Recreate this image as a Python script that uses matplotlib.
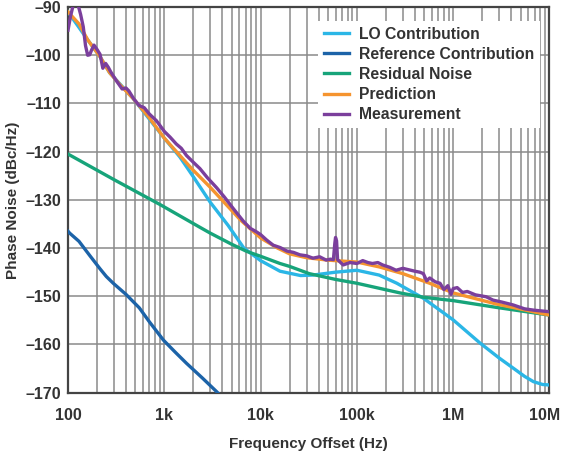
import numpy as np
import matplotlib
matplotlib.use('Agg')
import matplotlib.pyplot as plt
from matplotlib.ticker import FixedLocator, NullFormatter, LogLocator
from matplotlib.transforms import ScaledTranslation

# values
f_pred = [100, 130, 160, 215, 270, 350, 476, 700, 1000, 1940, 3000, 6200, 10000, 15000, 20000, 30000,
          50000, 100000, 170000, 300000, 570000, 1e6, 2.8e6, 1e7]
pn_pred = [-91.0, -93.5, -96.8, -100.3, -103.6, -106.2, -109.0, -113.0, -117.2, -123.6, -127.4, -134.2,
           -137.9, -140.0, -141.2, -142.0, -142.5, -142.9, -143.9, -145.3, -147.3, -149.3, -151.6,
           -153.9]

f_lo = [100, 160, 215, 270, 476, 1000, 1450, 2000, 3000, 4600, 6700, 10000, 15900, 26000, 35000,
        60000, 100000, 170000, 260000, 490000, 1e6, 1.9e6, 3e6, 4.2e6, 5.5e6, 6.8e6, 8.5e6, 1e7]
pn_lo = [-91.0, -96.8, -100.3, -103.6, -109.0, -117.2, -121.1, -125.2, -130.5, -135.3, -140.0,
         -142.6, -144.8, -145.7, -145.6, -145.0, -144.6, -145.6, -147.3, -150.4, -154.9, -159.7,
         -162.8, -164.9, -166.6, -167.7, -168.3, -168.4]

f_ref = [100, 104, 130, 169, 215, 250, 295, 400, 550, 700, 980, 1300, 1700, 2500, 3500, 4000]
pn_ref = [-136.5, -136.9, -138.6, -141.6, -144.3, -145.9, -147.3, -149.6, -152.4, -155.3, -159.1,
          -161.6, -163.9, -167.0, -169.8, -171.0]

f_res = [100, 300, 908, 2300, 3000, 5000, 7200, 10000, 15900, 20000, 32000, 60000, 100000, 280000,
         490000, 1e6, 2.8e6, 1e7]
pn_res = [-120.5, -125.8, -131.0, -135.6, -136.9, -139.2, -140.7, -141.7, -143.2, -143.8, -145.3,
          -146.5, -147.3, -149.3, -150.2, -150.9, -152.3, -153.9]

f_meas = [100, 106, 115, 125, 135, 144, 152, 160, 168, 175, 186, 200, 215, 230, 246, 262, 277, 313,
          365, 400, 428, 480, 546, 620, 700, 830, 1000, 1150, 1330, 1500, 1700, 2000, 2340, 2800,
          3500, 4200, 5200, 6600, 7800, 9000, 10000, 11500, 13500, 16000, 18700, 22000, 25600,
          30000, 35000, 41000, 48000, 53000, 57000, 59000, 60000, 61500, 63000, 72000, 85000,
          100000, 115000, 130000, 145000, 165000, 185000, 220000, 255000, 300000, 330000, 400000,
          450000, 490000, 530000, 570000, 650000, 730000, 800000, 880000, 950000, 1.0e6, 1.1e6,
          1.25e6, 1.4e6, 1.7e6, 2.2e6, 2.6e6, 3.2e6, 4.2e6, 5.5e6, 7e6, 1e7]
pn_meas = [-94.8, -92.0, -89.0, -89.0, -91.5, -94.1, -98.0, -100.0, -99.9, -99.0, -97.9, -98.8,
           -99.8, -102.7, -101.7, -102.5, -103.4, -105.1, -107.0, -106.8, -107.4, -109.0, -110.4,
           -110.9, -112.2, -113.6, -115.8, -117.0, -118.4, -119.3, -120.8, -122.2, -123.5, -125.4,
           -127.5, -129.4, -131.8, -134.4, -135.9, -136.6, -137.2, -138.3, -139.4, -139.9, -140.6,
           -140.9, -141.4, -141.6, -142.1, -141.8, -142.5, -142.3, -142.4, -139.0, -137.8, -138.5,
           -142.4, -143.5, -143.0, -143.2, -142.6, -143.0, -143.2, -143.0, -143.5, -144.0, -144.6,
           -144.2, -144.4, -144.8, -145.0, -145.3, -146.8, -146.2, -147.0, -147.3, -148.6, -147.8,
           -149.6, -148.4, -148.2, -149.2, -149.0, -149.7, -150.1, -150.8, -151.2, -151.8, -152.6,
           -152.9, -153.2]

xticks = [100, 1e3, 1e4, 1e5, 1e6, 1e7]
xlabels = ['100', '1k', '10k', '100k', '1M', '10M']
yticks = list(range(-170, -89, 10))

plt.rcParams['font.family'] = ['Liberation Sans', 'DejaVu Sans']
txt = '#333333'

fig = plt.figure(figsize=(5.63, 4.53), dpi=100)
ax = fig.add_axes([0.1208, 0.1331, 0.976 - 0.1208, 0.9845 - 0.1331])

lw = 2.4
ax.plot(f_lo, pn_lo, color='#2bb6e6', lw=lw, label='LO Contribution', zorder=3)
ax.plot(f_ref, pn_ref, color='#1c63a8', lw=lw, label='Reference Contribution', zorder=3)
ax.plot(f_res, pn_res, color='#17a47a', lw=lw, label='Residual Noise', zorder=3)
ax.plot(f_pred, pn_pred, color='#f5942f', lw=lw, label='Prediction', zorder=4)
ax.plot(f_meas, pn_meas, color='#7b3f9c', lw=lw, label='Measurement', zorder=5)

ax.set_xscale('log')
ax.set_xlim(100, 1e7)
ax.set_ylim(-170, -90)
ax.xaxis.set_major_locator(FixedLocator(xticks))
ax.xaxis.set_minor_locator(LogLocator(base=10, subs=np.arange(2, 10)))
ax.xaxis.set_minor_formatter(NullFormatter())
ax.set_xticks(xticks)
ax.set_xticklabels(xlabels)
ax.set_yticks(yticks)
ax.set_yticklabels(['\u2013' + str(abs(v)) for v in yticks])
ax.tick_params(which='both', length=0, labelsize=11.5, labelcolor=txt)
ax.tick_params(axis='x', pad=11)
ax.tick_params(axis='y', pad=5)
for lab in ax.get_xticklabels() + ax.get_yticklabels():
    lab.set_fontweight('bold')
# the last x label sits a bit left of its grid line, as in the original
last = ax.get_xticklabels()[-1]
last.set_transform(last.get_transform() + ScaledTranslation(-0.05, 0, fig.dpi_scale_trans))

ax.grid(True, which='both', axis='x', color='#8a8a8a', lw=1.1, zorder=0)
ax.grid(True, which='major', axis='y', color='#8a8a8a', lw=1.1, zorder=0)
ax.set_axisbelow(True)
for s in ax.spines.values():
    s.set_color('#444444')
    s.set_linewidth(1.6)

ax.set_xlabel('Frequency Offset (Hz)', fontsize=11, fontweight='bold', color=txt, labelpad=10)
ax.set_ylabel('Phase Noise (dBc/Hz)', fontsize=11, fontweight='bold', color=txt, labelpad=4)

leg = ax.legend(loc='upper right', bbox_to_anchor=(0.997, 0.985), frameon=True, fancybox=False,
                edgecolor='none', framealpha=1.0, handlelength=1.6, handletextpad=0.6,
                labelspacing=0.32, borderpad=0.4,
                prop={'weight': 'bold', 'size': 11.3})
for t in leg.get_texts():
    t.set_color(txt)

fig.savefig('out.png', dpi=100)
